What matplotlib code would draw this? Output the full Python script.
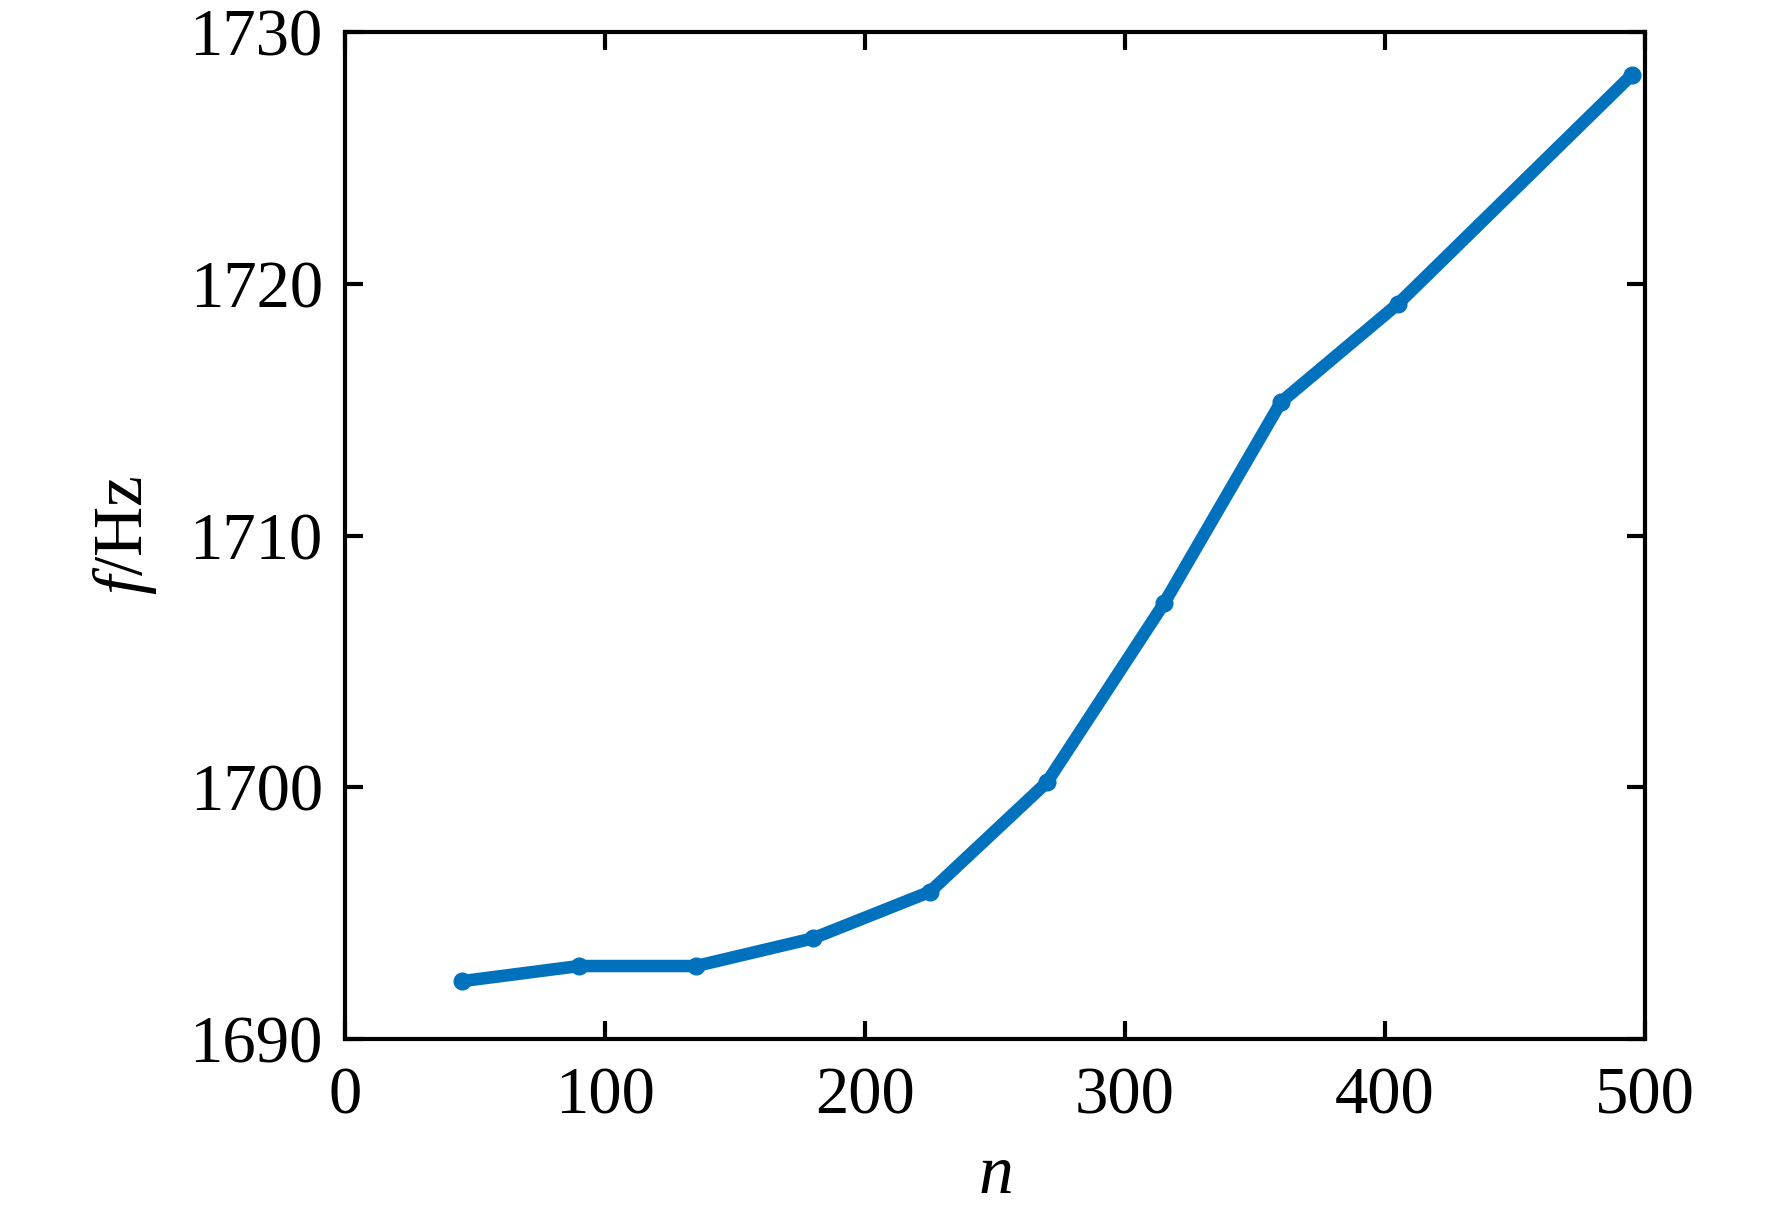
import numpy as np
from matplotlib import pyplot as plt

plt.rcParams['font.family'] = 'Liberation Serif'
plt.rcParams['mathtext.fontset'] = 'custom'
plt.rcParams['mathtext.rm'] = 'Liberation Serif'
plt.rcParams['mathtext.it'] = 'Liberation Serif:italic'

n = [45, 90, 135, 180, 225, 270, 315, 360, 405, 495]
f_hz = [1692.3, 1692.9, 1692.9, 1694.0, 1695.85, 1700.2, 1707.3, 1715.3, 1719.2, 1728.3]
xticks = [0, 100, 200, 300, 400, 500]
yticks = [1690, 1700, 1710, 1720, 1730]

fig = plt.figure(figsize=(17.72, 12.12), dpi=100)
ax = fig.add_axes([0.1947, 0.1427, 0.7336, 0.8309])

ax.plot(n, f_hz, color='#0072BD', linewidth=9, marker='o', markersize=12,
        solid_capstyle='round', solid_joinstyle='round')

ax.set_xlim(0, 500)
ax.set_ylim(1690, 1730)
ax.set_xticks(xticks)
ax.set_yticks(yticks)

for s in ax.spines.values():
    s.set_linewidth(3)
ax.tick_params(direction='in', length=13, width=3, labelsize=48,
               top=True, right=True, pad=16)
ax.tick_params(axis='x', pad=20)

ax.set_xlabel('$n$', fontsize=50, labelpad=12)
ax.set_ylabel('$f$/Hz', fontsize=50, labelpad=22)

fig.savefig('out.png', dpi=100)
